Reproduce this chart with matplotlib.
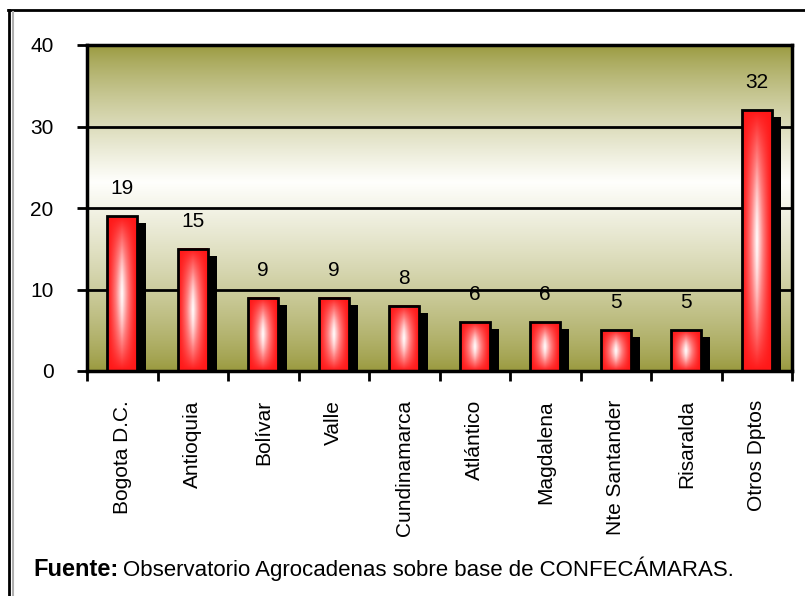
import numpy as np
import matplotlib.pyplot as plt
from matplotlib.patches import Rectangle
from matplotlib.lines import Line2D
from matplotlib.colors import LinearSegmentedColormap

categorias = ['Bogota D.C.', 'Antioquia', 'Bolívar', 'Valle', 'Cundinamarca',
              'Atlántico', 'Magdalena', 'Nte Santander', 'Risaralda', 'Otros Dptos']
valores = [19, 15, 9, 9, 8, 6, 6, 5, 5, 32]
yticks = [0, 10, 20, 30, 40]

plt.rcParams['font.family'] = ['Liberation Sans', 'DejaVu Sans']

fig = plt.figure(figsize=(8.05, 5.96), dpi=100)
ax = fig.add_axes([87/805, 1-371/596, 705/805, 326/596])

n = len(valores)
ax.set_xlim(-0.5, n - 0.5)
ax.set_ylim(0, 40)

# fondo degradado oliva - blanco - oliva
olive = np.array([0.60, 0.60, 0.24])
white = np.array([1.0, 1.0, 0.99])
t = np.linspace(0, 1, 300)
peak = 0.58
w = np.where(t < peak, t / peak, (1 - t) / (1 - peak))
w = np.clip(w, 0, 1) ** 0.8
bg = olive[None, :] * (1 - w[:, None]) + white[None, :] * w[:, None]
ax.imshow(bg[:, None, :], extent=(-0.5, n - 0.5, 0, 40), origin='lower',
          aspect='auto', zorder=0, interpolation='bilinear')

for yv in yticks[1:-1]:
    ax.axhline(yv, color='black', lw=2, zorder=1)

# barras con sombra y degradado rojo-blanco
bw = 0.42
red_cmap = LinearSegmentedColormap.from_list('rb', ['#ff1818', '#ff8080', '#ffffff'])
u = np.linspace(-1, 1, 60)
for i, v in enumerate(valores):
    x0 = i - bw / 2
    ax.add_patch(Rectangle((x0 + 0.13, -0.5), bw, v - 0.35, facecolor='black',
                           edgecolor='none', zorder=2))
    vv = np.linspace(-1, 1, 120)
    g = (1 - np.abs(u)[None, :]) ** 1.3 * (1 - np.abs(vv)[:, None] ** 1.6)
    ax.imshow(g, cmap=red_cmap, vmin=0, vmax=1, extent=(x0, x0 + bw, 0, v),
              origin='lower', aspect='auto', zorder=3, interpolation='bilinear')
    ax.add_patch(Rectangle((x0, 0), bw, v, facecolor='none', edgecolor='black',
                           lw=2, zorder=4))
    ax.annotate(str(v), (i, v), xytext=(0, 13), textcoords='offset points',
                ha='center', va='bottom', fontsize=15, zorder=5)

ax.set_xlim(-0.5, n - 0.5)
ax.set_ylim(0, 40)

ax.set_yticks(yticks)
ax.tick_params(axis='y', length=7, width=2, pad=17, labelsize=15)
ax.set_xticks(np.arange(n + 1) - 0.5)
ax.set_xticklabels([])
ax.tick_params(axis='x', which='major', length=7, width=2)
ax.set_xticks(np.arange(n), minor=True)
ax.set_xticklabels(categorias, minor=True, rotation=90, fontsize=15, va='top', ha='center')
ax.tick_params(axis='x', which='minor', length=0, pad=21)
for s in ax.spines.values():
    s.set_linewidth(2.5)
    s.set_zorder(6)

# marco exterior
fig.add_artist(Line2D([8/805, 1], [1-10/596, 1-10/596], color='black', lw=2))
fig.add_artist(Line2D([9/805, 9/805], [0, 1-10/596], color='black', lw=2))
fig.add_artist(Line2D([13/805, 13/805], [0, 1-12/596], color='#b0b0b0', lw=1.5))

fig.text(33/805, 1-569/596, 'Fuente:', fontsize=17, fontweight='bold', va='center')
fig.text(123/805, 1-569/596, 'Observatorio Agrocadenas sobre base de CONFECÁMARAS.',
         fontsize=16, va='center')

fig.savefig('out.png', dpi=100)
